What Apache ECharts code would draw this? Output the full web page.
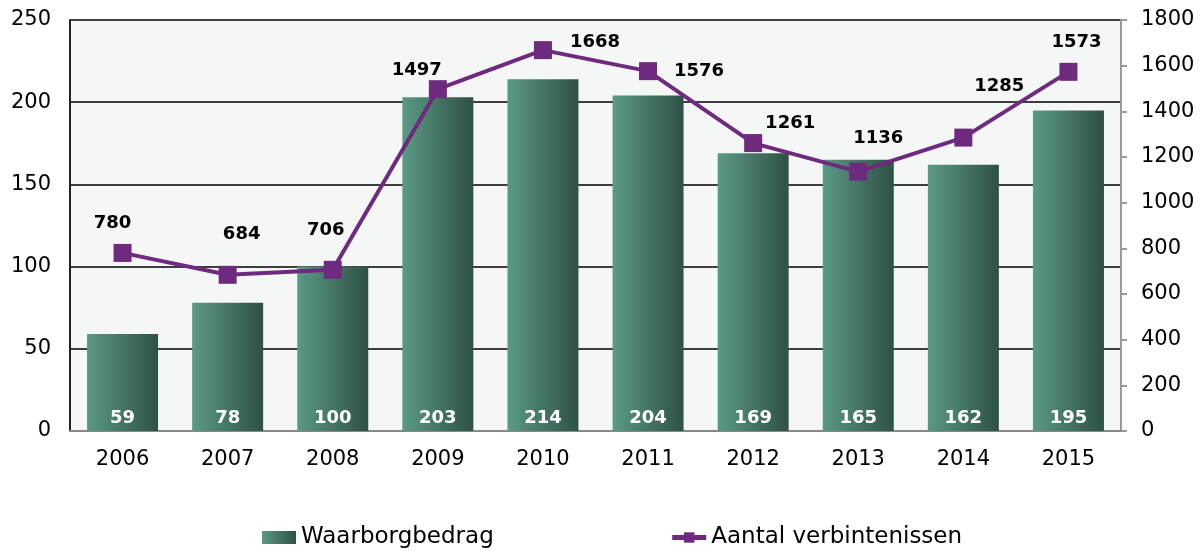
<!DOCTYPE html>
<html>
<head>
<meta charset="utf-8">
<script src="https://cdn.jsdelivr.net/npm/echarts@6/dist/echarts.min.js"></script>
<style>
  html, body { margin: 0; padding: 0; background: #fff; }
  #container { width: 1204px; height: 551px; }
</style>
</head>
<body>
<div id="container"></div>
<script>
var years = ['2006', '2007', '2008', '2009', '2010', '2011', '2012', '2013', '2014', '2015'];
var waarborgbedrag = [59, 78, 100, 203, 214, 204, 169, 165, 162, 195];
var verbintenissen = [780, 684, 706, 1497, 1668, 1576, 1261, 1136, 1285, 1573];

// where each line label sits relative to its marker (dx, dy)
var lineLabelOffsets = [[-10, -30], [14, -40], [-7, -39], [-21, -19], [52, -8], [51, 0], [37, -20], [20, -33], [36, -51], [8, -30]];

var dom = document.getElementById('container');
var myChart = echarts.init(dom);

var font = 'DejaVu Sans';

var barGradient = new echarts.graphic.LinearGradient(0, 0, 1, 0, [
    {offset: 0, color: '#5b9a85'},
    {offset: 1, color: '#2e5144'}
]);

var option = {
    textStyle: {fontFamily: font},
    animation: false,
    grid: {left: 70, right: 83, top: 20, bottom: 120, show: true, backgroundColor: '#f5f7f6', borderWidth: 0},
    legend: {
        bottom: -3,
        left: 257,
        itemGap: 176,
        itemWidth: 34,
        itemHeight: 13,
        textStyle: {fontFamily: font, fontSize: 23, color: '#000'},
        data: [
            {name: 'Waarborgbedrag', icon: 'rect'},
            {name: 'Aantal verbintenissen', lineStyle: {width: 5}}
        ]
    },
    xAxis: {
        type: 'category',
        data: years,
        axisLine: {lineStyle: {color: '#888', width: 2}},
        axisTick: {show: false},
        axisLabel: {fontSize: 21, color: '#000', margin: 18}
    },
    yAxis: [
        {
            type: 'value',
            min: 0, max: 250, interval: 50,
            axisLine: {show: true, lineStyle: {color: '#222', width: 2}},
            axisTick: {show: false},
            splitLine: {lineStyle: {color: '#000', width: 1.5}},
            axisLabel: {fontSize: 21, color: '#000', margin: 19}
        },
        {
            type: 'value',
            min: 0, max: 1800, interval: 200,
            position: 'right',
            axisLine: {show: true, lineStyle: {color: '#999', width: 2}},
            axisTick: {show: true, length: 6, lineStyle: {color: '#999', width: 2}},
            splitLine: {show: false},
            axisLabel: {fontSize: 21, color: '#000', margin: 20, formatter: function (v) { return String(v); }}
        }
    ],
    series: [
        {
            name: 'Waarborgbedrag',
            type: 'bar',
            data: waarborgbedrag,
            barWidth: 71,
            itemStyle: {color: barGradient},
            label: {
                show: true,
                position: 'insideBottom',
                distance: 4,
                color: '#fff',
                fontWeight: 'bold',
                fontSize: 18,
                fontFamily: font
            }
        },
        {
            name: 'Aantal verbintenissen',
            type: 'line',
            yAxisIndex: 1,
            data: verbintenissen.map(function (v, i) {
                return {value: v, label: {offset: lineLabelOffsets[i]}};
            }),
            symbol: 'rect',
            symbolSize: 18,
            lineStyle: {color: '#6e2a7e', width: 4},
            itemStyle: {color: '#6e2a7e'},
            label: {
                show: true,
                position: 'inside',
                color: '#000',
                fontWeight: 'bold',
                fontSize: 18,
                fontFamily: font
            },
            z: 5
        }
    ]
};

myChart.setOption(option);
</script>
</body>
</html>
